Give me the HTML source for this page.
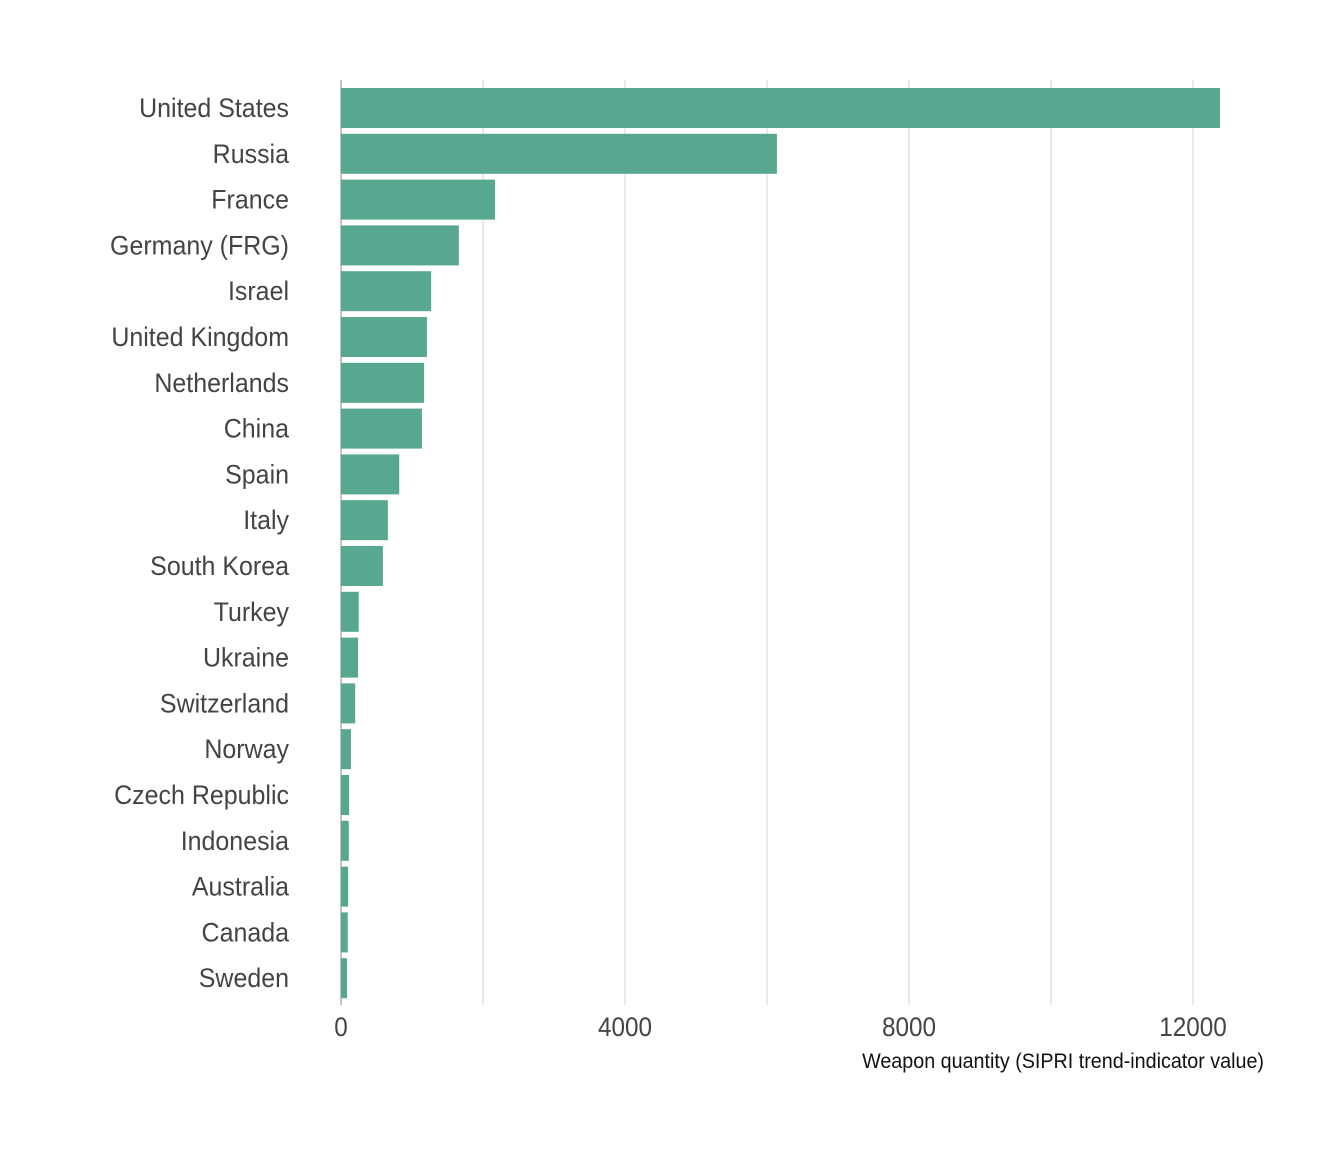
<!DOCTYPE html>
<html><head><meta charset="utf-8"><style>
html,body{margin:0;padding:0;background:#fff;}
svg text{font-family:"Liberation Sans",sans-serif;fill:#444;}
</style></head><body>
<svg id="chart" width="1344" height="1152" xmlns="http://www.w3.org/2000/svg">
<g id="grid"></g>
<g id="bars"></g>
<g id="ylabels"></g>
<g id="xlabels"></g>
<text transform="translate(1264,1068) scale(0.94,1)" text-anchor="end" font-size="21" style="fill:#111">Weapon quantity (SIPRI trend-indicator value)</text>
</svg>
<script>
const categories = ["United States","Russia","France","Germany (FRG)","Israel","United Kingdom","Netherlands","China","Spain","Italy","South Korea","Turkey","Ukraine","Switzerland","Norway","Czech Republic","Indonesia","Australia","Canada","Sweden"];
const values = [12380,6140,2170,1660,1270,1210,1170,1140,820,660,590,250,240,200,140,115,110,100,95,85];
const gridValues = [0,2000,4000,6000,8000,10000,12000];
const tickValues = [0,4000,8000,12000];
const tickLabels = ["0","4000","8000","12000"];

const NS="http://www.w3.org/2000/svg";
const x0=341, pxPer=284/4000, plotTop=80, plotBottom=1005;
const band=45.8, firstCenter=108;
const xs=v=>x0+v*pxPer;
const yc=i=>firstCenter+band*i;
function mk(tag,attrs,parent){const e=document.createElementNS(NS,tag);for(const k in attrs)e.setAttribute(k,attrs[k]);parent.appendChild(e);return e;}
const grid=document.getElementById('grid'),bars=document.getElementById('bars'),yl=document.getElementById('ylabels'),xl=document.getElementById('xlabels');
gridValues.forEach(v=>{
  const l=mk('line',{x1:xs(v),x2:xs(v),y1:plotTop,y2:plotBottom,stroke:v===0?'#c4c4c4':'#d6d6d6','stroke-width':v===0?2:1},grid);
  
  
});
categories.forEach((c,i)=>{
  const r=mk('rect',{x:x0,y:yc(i)-20,width:xs(values[i])-x0,height:40,fill:'#58a790'},bars);
  
  
  const t=mk('text',{transform:`translate(289,${yc(i)+9}) scale(0.925,1)`,'text-anchor':'end','font-size':27},yl);
  t.textContent=c;
  
  
});
tickValues.forEach((v,i)=>{
  const t=mk('text',{transform:`translate(${xs(v)},1036) scale(0.9,1)`,'text-anchor':'middle','font-size':27},xl);
  t.textContent=tickLabels[i];
  
  
});
</script>
</body></html>
